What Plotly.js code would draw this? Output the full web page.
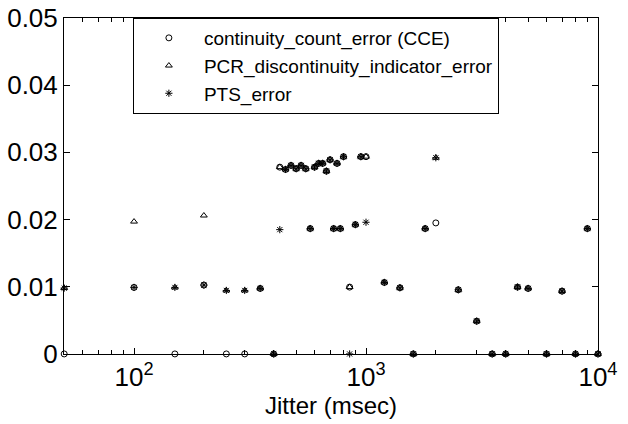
<!DOCTYPE html>
<html><head><meta charset="utf-8">
<script src="https://cdn.plot.ly/plotly-3.0.1.min.js"></script>
<style>html,body{margin:0;padding:0;background:#fff}#chart{width:628px;height:424px}</style>
</head><body><div id="chart"></div>
<script>
const jitter = [50,100,150,200,250,300,350,400,425,450,475,500,525,550,575,600,625,650,675,700,725,750,775,800,850,900,950,1000,1200,1400,1600,1800,2000,2500,3000,3500,4000,4500,5000,6000,7000,8000,9000,10000];
const cce = [0,0.0099,0,0.01025,0,0,0.00975,0,0.0278,0.02746,0.02806,0.02757,0.02806,0.02757,0.01866,0.0278,0.02836,0.02836,0.02721,0.0289,0.01866,0.02836,0.01866,0.02936,0.00995,0.01925,0.02936,0.02936,0.01064,0.00985,0,0.01866,0.0195,0.00955,0.00488,0,0,0.00995,0.00975,0,0.00935,0,0.01866,0];
const pcr = [0.0098,0.0197,0.0099,0.0206,0.00945,0.00945,0.00975,0,0.0278,0.02746,0.02806,0.02757,0.02806,0.02757,0.01866,0.0278,0.02836,0.02836,0.02721,0.0289,0.01866,0.02836,0.01866,0.02936,0.00995,0.01925,0.02936,0.02936,0.01064,0.00985,0,0.01866,0.0292,0.00955,0.00488,0,0,0.00995,0.00975,0,0.00935,0,0.01866,0];
const pts = [0.0098,0.0099,0.0099,0.01025,0.00945,0.00945,0.00975,0,0.0185,0.02746,0.02806,0.02757,0.02806,0.02757,0.01866,0.0278,0.02836,0.02836,0.02721,0.0289,0.01866,0.02836,0.01866,0.02936,0,0.01925,0.02936,0.0196,0.01064,0.00985,0,0.01866,0.0292,0.00955,0.00488,0,0,0.00995,0.00975,0,0.00935,0,0.01866,0];
const names = ['continuity_count_error (CCE)','PCR_discontinuity_indicator_error','PTS_error'];
const xTickVals = [100,1000,10000];
const xTickText = ['10<sup>2</sup>','10<sup>3</sup>','10<sup>4</sup>'];
const yTickVals = [0,0.01,0.02,0.03,0.04,0.05];
const yTickText = ['0','0.01','0.02','0.03','0.04','0.05'];

const minorVals = [];
[10,100,1000].forEach(d => { for (let k = 2; k <= 9; k++) minorVals.push(k*d); });

const mk = (sym) => ({symbol:sym, size:6, color:'#000', line:{color:'#000', width:1}});
const traces = [
  {x:jitter, y:cce, name:names[0], type:'scatter', mode:'markers', marker:mk('circle-open'), cliponaxis:false},
  {x:jitter, y:pcr, name:names[1], type:'scatter', mode:'markers', marker:mk('triangle-up-open'), cliponaxis:false},
  {x:jitter, y:pts, name:names[2], type:'scatter', mode:'markers', marker:mk('asterisk-open'), cliponaxis:false}
];
const fontFam = 'Liberation Sans, Arial, sans-serif';
const layout = {
  width:628, height:424,
  margin:{l:64, r:30, t:18, b:70},
  paper_bgcolor:'#fff', plot_bgcolor:'#fff',
  font:{family:fontFam, color:'#000'},
  showlegend:true,
  legend:{x:0.129, y:1, xanchor:'left', yanchor:'top', bgcolor:'#fff', bordercolor:'#000', borderwidth:1,
          font:{size:19, family:fontFam}, itemwidth:60, tracegroupgap:0},
  xaxis:{type:'log', range:[Math.log10(49.9), 4.0001], tickmode:'array', tickvals:xTickVals, ticktext:xTickText,
         ticks:'inside', ticklen:6, tickcolor:'#000', showline:true, linecolor:'#000', linewidth:1, mirror:'ticks',
         showgrid:false, zeroline:false, tickfont:{size:26, family:fontFam},
         minor:{tickmode:'array', tickvals:minorVals, ticks:'inside', ticklen:4, tickcolor:'#000', showgrid:false},
         title:{text:'Jitter (msec)', font:{size:24, family:fontFam}, standoff:0}},
  yaxis:{range:[-0.00001,0.05], tickmode:'array', tickvals:yTickVals, ticktext:yTickText,
         ticks:'inside', ticklen:6, tickcolor:'#000', showline:true, linecolor:'#000', linewidth:1, mirror:'ticks',
         showgrid:false, zeroline:false, tickfont:{size:26, family:fontFam}}
};
Plotly.newPlot('chart', traces, layout, {staticPlot:true});
</script></body></html>
